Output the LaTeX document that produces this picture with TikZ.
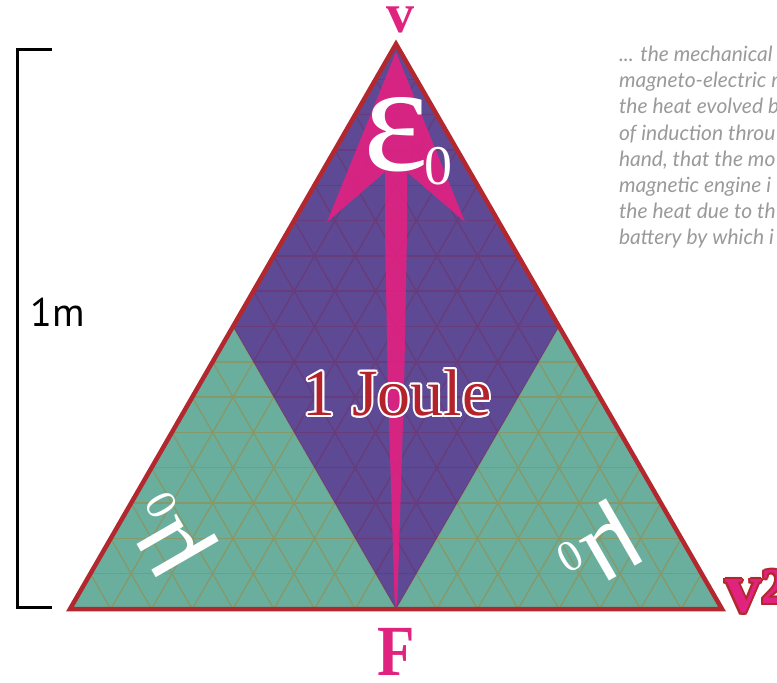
\documentclass[tikz,border=0pt]{standalone}
\usepackage{fontspec}
\setmainfont{Liberation Serif}
\newfontfamily\quotefont{Lato}
\newfontfamily\labelfont{PT Sans}
\usetikzlibrary{calc}
\definecolor{greenface}{HTML}{6AAF9D}
\definecolor{purpleface}{HTML}{5E4A94}
\definecolor{olivegrid}{HTML}{85996A}
\definecolor{plumgrid}{HTML}{683B7B}
\definecolor{rimred}{HTML}{B3272E}
\definecolor{spike}{HTML}{DC2282}
\definecolor{magenta}{HTML}{E0237F}
\definecolor{jouleink}{HTML}{B4232C}
\definecolor{quotegray}{HTML}{9A9A9A}
\tikzset{
  every node/.style={inner sep=0pt,outer sep=0pt},
  gface/.style={fill=greenface},
  pface/.style={fill=purpleface},
  olive/.style={draw=olivegrid,line width=1.4},
  plum/.style={draw=plumgrid,line width=1.4},
  rim/.style={draw=rimred,line width=4.5,line join=miter},
  spikefill/.style={fill=spike,fill opacity=0.95},
  glyph/.style={text=white,font=\fontsize{155}{155}\selectfont},
  glyphsub/.style={text=white,font=\fontsize{56}{56}\selectfont},
  muglyph/.style={text=white,font=\fontsize{108}{108}\selectfont},
  joulefont/.style={font=\fontsize{66}{66}\selectfont},
  corner/.style={text=magenta,font=\bfseries\fontsize{56}{56}\selectfont},
  ruler/.style={draw=black,line width=3},
  rulerlabel/.style={font=\labelfont\fontsize{40}{40}\selectfont},
  quote/.style={text=quotegray,align=left,font=\quotefont\itshape\fontsize{21}{26.2}\selectfont}
}
\newcommand\trilattice[1]{%
  \foreach \k in {1,...,15}{
    \draw[#1] ($(bl)!\k/16!(top)$) -- ($(br)!\k/16!(top)$);
    \draw[#1] ($(bl)!\k/16!(br)$) -- ($(bl)!\k/16!(top)$);
    \draw[#1] ($(br)!\k/16!(bl)$) -- ($(br)!\k/16!(top)$);
  }}
\begin{document}
\begin{tikzpicture}[x=1pt,y=-1pt]
  \useasboundingbox[fill=white] (0,0) rectangle (777,683);
  \coordinate (top) at (396,44);
  \coordinate (bl) at (70,609);
  \coordinate (br) at (722,609);
  \coordinate (ml) at ($(bl)!0.5!(top)$);
  \coordinate (mr) at ($(br)!0.5!(top)$);
  \coordinate (bm) at ($(bl)!0.5!(br)$);

  % faces
  \fill[gface] (bl) -- (ml) -- (bm) -- cycle;
  \fill[gface] (br) -- (mr) -- (bm) -- cycle;
  \fill[pface] (top) -- (ml) -- (bm) -- (mr) -- cycle;

  % triangular lattice
  \begin{scope}
    \clip (bl) -- (ml) -- (bm) -- cycle (br) -- (mr) -- (bm) -- cycle;
    \trilattice{olive}
  \end{scope}
  \begin{scope}
    \clip (top) -- (ml) -- (bm) -- (mr) -- cycle;
    \trilattice{plum}
  \end{scope}

  % spike
  \fill[spikefill] (396,52) -- (327,222) -- (385,172) -- (385,233) -- (388,390)
    -- (394.5,598) -- (396,609) -- (397.5,598) -- (404,390) -- (407,233)
    -- (407,172) -- (465,222) -- cycle;

  \draw[rim] (top) -- (bl) -- (br) -- cycle;

  % symbols
  \node[glyph] (eps) at (396,135) {ε};
  \node[glyphsub] (epszero) at (438,166) {0};
  \node[muglyph,rotate=120] (muleft) at (172,533) {μ\raisebox{-6pt}{\fontsize{44}{44}\selectfont 0}};
  \node[muglyph,rotate=-150] (muright) at (598,546) {μ\raisebox{-6pt}{\fontsize{44}{44}\selectfont 0}};

  \coordinate (joulepos) at (397,393);
  \foreach \a in {0,30,...,330}
    \node[joulefont,text=white] at ($(joulepos)+(\a:2)$) {1 Joule};
  \node[joulefont,text=jouleink] (joule) at (joulepos) {1 Joule};

  \node[corner] (vel) at (400,20) {v};
  \node[corner,font=\bfseries\fontsize{72}{72}\selectfont,xscale=0.85] (force) at (396,652) {F};
  \coordinate (sqpos) at (756,592);
  \foreach \a in {0,45,...,315}
    \node[corner,text=rimred,font=\bfseries\fontsize{72}{72}\selectfont] at ($(sqpos)+(\a:2)$) {v\textsuperscript{2}};
  \node[corner,font=\bfseries\fontsize{72}{72}\selectfont] (velsq) at (sqpos) {v\textsuperscript{2}};

  % length bar
  \coordinate (rtop) at (17,49);
  \coordinate (rbot) at (17,607);
  \draw[ruler] ($(rtop)+(35,0)$) -- (rtop) -- (rbot) -- ($(rbot)+(35,0)$);
  \node[rulerlabel] (len) at (58,312) {1m};

  \begin{scope}
    \clip (0,0) rectangle (777,683);
    \node[quote,anchor=north west] (quote) at (619,46) {... the mechanical p\\magneto-electric m\\the heat evolved b\\of induction throu\\hand, that the mo\\magnetic engine i\\the heat due to th\\battery by which i};
  \end{scope}
\end{tikzpicture}
\end{document}
